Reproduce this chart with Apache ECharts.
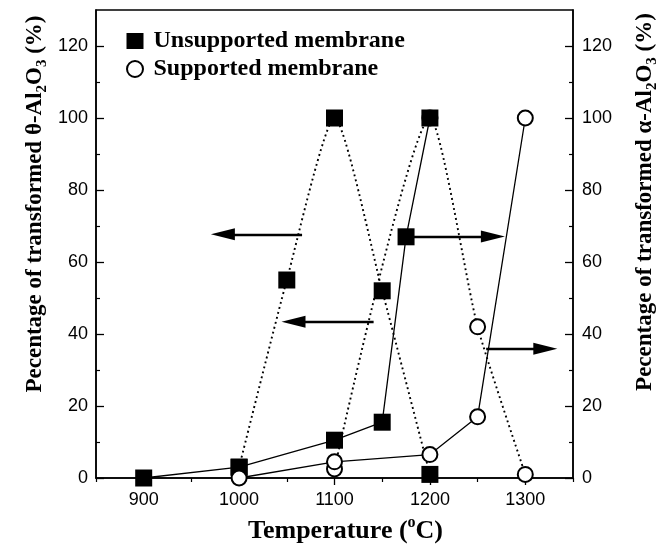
<!DOCTYPE html>
<html><head><meta charset="utf-8">
<script src="https://cdn.jsdelivr.net/npm/echarts@6/dist/echarts.min.js"></script>
<style>html,body{margin:0;padding:0;background:#fff}#c{width:667px;height:544px}</style>
</head><body><div id="c"></div>
<script>
// ---- tick values ----
const xTicks = [900, 1000, 1100, 1200, 1300];
const xMinorTicks = [850, 950, 1050, 1150, 1250, 1350];
const yTicks = [0, 20, 40, 60, 80, 100, 120];
const yMinorTicks = [10, 30, 50, 70, 90, 110];

// ---- data (temperature, percent) ----
const unsupAlphaX = [900, 1000, 1100, 1150, 1175, 1200];
const unsupAlphaY = [0, 3, 10.5, 15.5, 67, 100];
const unsupThetaX = [1000, 1050, 1100, 1150, 1200];
const unsupThetaY = [3, 55, 100, 52, 1];
const supAlphaX = [1000, 1100, 1200, 1250, 1300];
const supAlphaY = [0, 4.5, 6.5, 17, 100];
const supThetaX = [1100, 1200, 1250, 1300];
const supThetaY = [2.5, 100, 42, 1];

// ---- annotation arrows: [fromX, toX, y] in data units ----
const arrowFromX = [1066, 1141, 1178, 1259];
const arrowToX = [983, 1057, 1266, 1321];
const arrowY = [67.7, 43.4, 67.1, 35.9];

const zip = (xs, ys) => xs.map((x, i) => [x, ys[i]]);

const SERIF = 'Liberation Serif';
const SANS = 'Liberation Sans';

const chart = echarts.init(document.getElementById('c'), null, {renderer: 'canvas'});

const xCommon = {type: 'value', min: 850, max: 1350, interval: 50, position: 'bottom', splitLine: {show: false}};
const yCommon = {type: 'value', min: 0, max: 130, interval: 10, splitLine: {show: false}};
const lbl = {color: '#000', fontSize: 18, fontFamily: SANS, formatter: v => String(v)};

const arrowData = arrowFromX.map((fx, i) => [
  {coord: [fx, arrowY[i]], symbol: 'none'},
  {coord: [arrowToX[i], arrowY[i]], symbol: 'triangle', symbolSize: [12, 24]}
]);

const option = {
  animation: false,
  backgroundColor: '#fff',
  grid: {left: 96, right: 94, top: 10, bottom: 66, show: true, borderColor: '#000', borderWidth: 1.5, backgroundColor: 'transparent'},
  xAxis: [
    Object.assign({}, xCommon, {
      axisLine: {show: true, lineStyle: {color: '#000', width: 1.5}},
      axisTick: {show: true, customValues: xTicks, inside: false, length: 7, lineStyle: {color: '#000', width: 1.3}},
      axisLabel: Object.assign({customValues: xTicks, margin: 13}, lbl)
    }),
    Object.assign({}, xCommon, {
      axisLine: {show: false},
      axisTick: {show: true, customValues: xMinorTicks, inside: false, length: 4, lineStyle: {color: '#000', width: 1.2}},
      axisLabel: {show: false}
    })
  ],
  yAxis: [
    Object.assign({}, yCommon, {
      position: 'left',
      axisLine: {show: true, lineStyle: {color: '#000', width: 1.5}},
      axisTick: {show: true, customValues: yTicks, inside: true, length: 8, lineStyle: {color: '#000', width: 1.3}},
      axisLabel: Object.assign({customValues: yTicks, margin: 8}, lbl)
    }),
    Object.assign({}, yCommon, {
      position: 'right',
      axisLine: {show: true, lineStyle: {color: '#000', width: 1.5}},
      axisTick: {show: true, customValues: yTicks, inside: true, length: 8, lineStyle: {color: '#000', width: 1.3}},
      axisLabel: Object.assign({customValues: yTicks, margin: 9}, lbl)
    }),
    Object.assign({}, yCommon, {
      position: 'left',
      axisLine: {show: false},
      axisTick: {show: true, customValues: yMinorTicks, inside: true, length: 4, lineStyle: {color: '#000', width: 1.2}},
      axisLabel: {show: false}
    }),
    Object.assign({}, yCommon, {
      position: 'right',
      axisLine: {show: false},
      axisTick: {show: true, customValues: yMinorTicks, inside: true, length: 4, lineStyle: {color: '#000', width: 1.2}},
      axisLabel: {show: false}
    })
  ],
  legend: {
    orient: 'vertical', left: 121, top: 24, itemWidth: 17, itemHeight: 16, itemGap: 4,
    selectedMode: false,
    data: [{name: 'Unsupported membrane', icon: 'rect'}, {name: 'Supported membrane', icon: 'circle'}],
    textStyle: {fontFamily: SERIF, fontWeight: 'bold', fontSize: 24, color: '#000', padding: [0, 0, 0, 5]}
  },
  series: [
    {
      name: 'Supported membrane', type: 'line', xAxisIndex: 0, yAxisIndex: 0, z: 2,
      data: zip(supThetaX, supThetaY), smooth: 0.2,
      symbol: 'circle', symbolSize: 15,
      itemStyle: {color: '#fff', borderColor: '#000', borderWidth: 2},
      lineStyle: {color: '#000', width: 1.9, type: [1.9, 3.2]}
    },
    {
      name: 'Unsupported membrane', type: 'line', xAxisIndex: 0, yAxisIndex: 0, z: 3,
      data: zip(unsupThetaX, unsupThetaY), smooth: 0.2,
      symbol: 'rect', symbolSize: 17,
      itemStyle: {color: '#000'},
      lineStyle: {color: '#000', width: 1.9, type: [1.9, 3.2]}
    },
    {
      name: 'Unsupported membrane', type: 'line', xAxisIndex: 0, yAxisIndex: 1, z: 4,
      data: zip(unsupAlphaX, unsupAlphaY),
      symbol: 'rect', symbolSize: 17,
      itemStyle: {color: '#000'},
      lineStyle: {color: '#000', width: 1.3},
      markLine: {
        silent: true, animation: false, symbol: ['none', 'triangle'],
        label: {show: false}, emphasis: {disabled: true},
        lineStyle: {color: '#000', width: 2.4, type: 'solid'},
        data: arrowData
      }
    },
    {
      name: 'Supported membrane', type: 'line', xAxisIndex: 0, yAxisIndex: 1, z: 5,
      data: zip(supAlphaX, supAlphaY),
      symbol: 'circle', symbolSize: 15,
      itemStyle: {color: '#fff', borderColor: '#000', borderWidth: 2},
      lineStyle: {color: '#000', width: 1.3}
    }
  ],
  graphic: [
    {
      type: 'text', x: 35, y: 204, rotation: Math.PI / 2,
      style: {
        text: '{a|Pecentage of transformed θ-Al}{s|2}{a|O}{s|3}{a| (%)}',
        align: 'center', verticalAlign: 'middle',
        rich: {
          a: {fontFamily: SERIF, fontWeight: 'bold', fontSize: 23, fill: '#000', lineHeight: 30, verticalAlign: 'middle'},
          s: {fontFamily: SERIF, fontWeight: 'bold', fontSize: 15, fill: '#000', lineHeight: 30, verticalAlign: 'bottom'}
        }
      }
    },
    {
      type: 'text', x: 645, y: 202, rotation: Math.PI / 2,
      style: {
        text: '{a|Pecentage of transformed α-Al}{s|2}{a|O}{s|3}{a| (%)}',
        align: 'center', verticalAlign: 'middle',
        rich: {
          a: {fontFamily: SERIF, fontWeight: 'bold', fontSize: 23, fill: '#000', lineHeight: 30, verticalAlign: 'middle'},
          s: {fontFamily: SERIF, fontWeight: 'bold', fontSize: 15, fill: '#000', lineHeight: 30, verticalAlign: 'bottom'}
        }
      }
    },
    {
      type: 'text', x: 248, y: 531,
      style: {
        text: '{a|Temperature (}{p|o}{a|C)}',
        align: 'left', verticalAlign: 'middle',
        rich: {
          a: {fontFamily: SERIF, fontWeight: 'bold', fontSize: 26, fill: '#000', lineHeight: 32, verticalAlign: 'middle'},
          p: {fontFamily: SERIF, fontWeight: 'bold', fontSize: 16, fill: '#000', lineHeight: 32, verticalAlign: 'top'}
        }
      }
    }
  ]
};
chart.setOption(option);
</script>
</body></html>
